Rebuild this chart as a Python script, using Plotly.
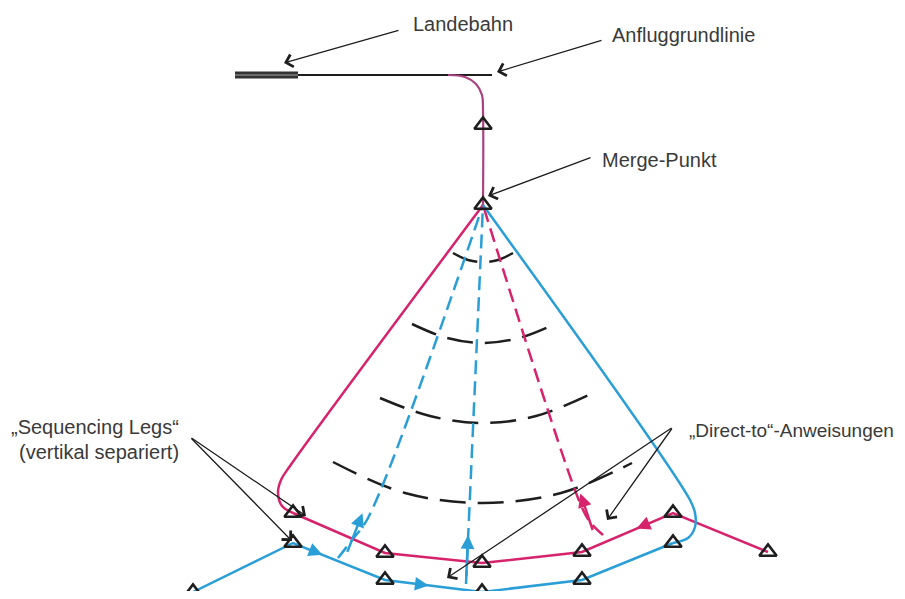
import plotly.graph_objects as go

# --- geometry (pixel space, y grows downwards) ---
runway_x = [235, 298]
runway_y = [75, 75]
baseline_x = [298, 492]
baseline_y = [75, 75]

# magenta final segment: turn off the baseline, down to the merge point
final_x = [448, 465, 476, 482, 483, 483]
final_y = [75, 77, 84, 95, 110, 205]

merge_x, merge_y = 483, 205
top_fix_x, top_fix_y = 483, 125

# magenta sequencing leg (outer arc, flown right -> left)
mag_arc_x = [293, 385, 482, 582, 673, 768]
mag_arc_y = [513, 553, 563, 552, 513, 552]
mag_side_x = [483, 290, 281, 278, 282, 293]
mag_side_y = [205, 466, 480, 493, 506, 513]

# blue sequencing leg (inner arc, flown left -> right)
blue_arc_x = [193, 293, 385, 482, 582, 673]
blue_arc_y = [592, 543, 580, 592, 580, 543]
blue_side_x = [673, 688, 695, 695, 690, 483]
blue_side_y = [543, 538, 527, 513, 500, 205]

# direct-to tracks back to the merge point
dto_blue1_x = [338, 352, 368, 483]
dto_blue1_y = [558, 540, 518, 205]
dto_blue2_x = [466, 467, 468, 483]
dto_blue2_y = [584, 560, 540, 205]
dto_mag_x = [603, 590, 580, 483]
dto_mag_y = [535, 522, 503, 205]

# equal-distance arcs around the merge point
arcs = [
    ([453, 468, 483, 498, 513], [253, 260, 262, 260, 253]),
    ([412, 447, 483, 519, 555], [324, 338, 343, 338, 324]),
    ([380, 430, 483, 536, 595], [398, 416, 423, 416, 392]),
    ([333, 405, 483, 561, 632], [462, 493, 503, 493, 463]),
]

# labels: text, anchor x, centre y, x anchor, font size
labels = [
    ("Landebahn", 463, 24, "center", 20),
    ("Anfluggrundlinie", 683, 35, "center", 20),
    ("Merge-Punkt", 659, 160, "center", 20),
    ("„Sequencing Legs“", 95, 427, "center", 20),
    ("(vertikal separiert)", 99, 452, "center", 20),
    ("„Direct-to“-Anweisungen", 896, 430, "right", 19),
]

# pointer arrows: (tail x, tail y, head x, head y)
pointers = [
    (400, 30, 284, 63),
    (603, 40, 497, 72),
    (592, 157, 488, 196),
    (190, 437, 306, 516),
    (190, 437, 292, 541),
    (673, 427, 607, 520),
    (673, 427, 447, 578),
]

MAG = "#d6236c"
MAG_DARK = "#a8437f"
BLUE = "#2a9ed6"
INK = "#1e1e1e"
TXT = "#3a3a3a"

# the page body has an 8px margin; shift the axes so data units = window pixels
PAD = 8
W, H = 905, 599

fig = go.Figure()


def line(x, y, color, width, dash="solid", shape="linear"):
    fig.add_trace(go.Scatter(x=x, y=y, mode="lines", hoverinfo="skip",
                             line=dict(color=color, width=width, dash=dash, shape=shape)))


# runway + approach baseline
line(runway_x, runway_y, "#333333", 7)
line(runway_x, runway_y, "#6b6b6b", 2)
line(baseline_x, baseline_y, INK, 2)

# distance arcs
for ax_, ay_ in arcs:
    line(ax_, ay_, INK, 2.5, dash="26px,12px", shape="spline")

# direct-to tracks
line(dto_blue1_x, dto_blue1_y, BLUE, 2.5, dash="14px,7px", shape="spline")
line(dto_blue2_x, dto_blue2_y, BLUE, 2.5, dash="14px,7px")
line(dto_mag_x, dto_mag_y, MAG, 2.5, dash="14px,7px", shape="spline")

# sequencing legs
line(mag_side_x, mag_side_y, MAG, 2.5, shape="spline")
line(mag_arc_x, mag_arc_y, MAG, 2.5)
line(blue_side_x, blue_side_y, BLUE, 2.5, shape="spline")
line(blue_arc_x, blue_arc_y, BLUE, 2.5)
line(final_x, final_y, MAG_DARK, 2.2, shape="spline")

# waypoints
fix_x = mag_arc_x + blue_arc_x + [top_fix_x, merge_x]
fix_y = mag_arc_y + blue_arc_y + [top_fix_y, merge_y]
fig.add_trace(go.Scatter(x=fix_x, y=fix_y, mode="markers", hoverinfo="skip",
                         marker=dict(symbol="triangle-up-open", size=15, color=INK,
                                     line=dict(width=2.6, color=INK))))

ann = []


def head(x0, y0, x1, y1, t, color):
    # filled arrowhead at fraction t of the segment, pointing to (x1, y1)
    hx = x0 + (x1 - x0) * t
    hy = y0 + (y1 - y0) * t
    tx = x0 + (x1 - x0) * (t - 0.12)
    ty = y0 + (y1 - y0) * (t - 0.12)
    ann.append(dict(x=hx, y=hy, ax=tx, ay=ty, xref="x", yref="y", axref="x", ayref="y",
                    showarrow=True, arrowhead=2, arrowsize=1.1, arrowwidth=2.5,
                    arrowcolor=color, text="", standoff=0))


head(blue_arc_x[1], blue_arc_y[1], blue_arc_x[2], blue_arc_y[2], 0.32, BLUE)
head(blue_arc_x[2], blue_arc_y[2], blue_arc_x[3], blue_arc_y[3], 0.45, BLUE)
head(mag_arc_x[4], mag_arc_y[4], mag_arc_x[3], mag_arc_y[3], 0.40, MAG)
head(dto_blue1_x[1], dto_blue1_y[1], dto_blue1_x[3], dto_blue1_y[3], 0.08, BLUE)
head(dto_blue2_x[1], dto_blue2_y[1], dto_blue2_x[3], dto_blue2_y[3], 0.07, BLUE)
head(dto_mag_x[1], dto_mag_y[1], dto_mag_x[3], dto_mag_y[3], 0.09, MAG)

for tx, ty, hx, hy in pointers:
    ann.append(dict(x=hx, y=hy, ax=tx, ay=ty, xref="x", yref="y", axref="x", ayref="y",
                    showarrow=True, arrowhead=4, arrowsize=1.9, arrowwidth=1.3,
                    arrowcolor=INK, text="", standoff=0))

for text, cx, cy, anchor, size in labels:
    ann.append(dict(x=cx, y=cy, xref="x", yref="y", text=text, showarrow=False,
                    xanchor=anchor, yanchor="middle",
                    font=dict(family="Liberation Sans, Arial, sans-serif", size=size, color=TXT)))

fig.update_layout(
    width=W - 2 * PAD, height=H - 2 * PAD,
    margin=dict(l=0, r=0, t=0, b=0),
    showlegend=False,
    paper_bgcolor="white", plot_bgcolor="white",
    xaxis=dict(range=[PAD, W - PAD], visible=False, fixedrange=True),
    yaxis=dict(range=[H - PAD, PAD], visible=False, fixedrange=True),
    annotations=ann,
)

fig.write_html("out.html")
